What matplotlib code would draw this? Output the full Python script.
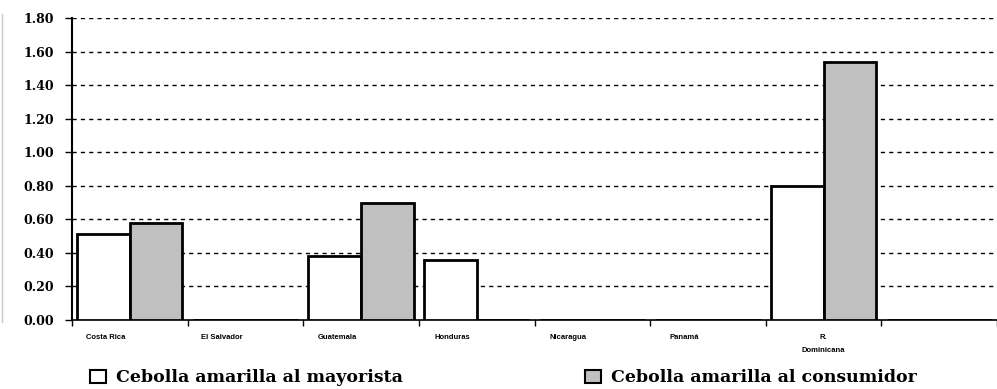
import numpy as np
import matplotlib.pyplot as plt
from matplotlib.patches import Patch
from matplotlib.lines import Line2D
import matplotlib.transforms as mtransforms

# data
paises = ['Costa Rica', 'El Salvador', 'Guatemala', 'Honduras',
          'Nicaragua', 'Panamá', 'R.\nDominicana', '']
mayorista = [0.51, 0, 0.38, 0.36, 0, 0, 0.80, 0]
consumidor = [0.58, 0, 0.70, 0, 0, 0, 1.54, 0]
series = ['Cebolla amarilla al mayorista', 'Cebolla amarilla al consumidor']
y_ticks = np.arange(0, 1.81, 0.2)

fig = plt.figure(figsize=(9.97, 3.89), dpi=100)
ax = fig.add_axes([72 / 997, 1 - 320 / 389, 925 / 997, 302 / 389])

x = np.arange(len(paises))
w = 0.455
ax.bar(x - w / 2, mayorista, w, color='white', edgecolor='black', linewidth=2, zorder=3)
ax.bar(x + w / 2, consumidor, w, color='#c0c0c0', edgecolor='black', linewidth=2, zorder=3)

ax.set_xlim(-0.5, 7.41)
ax.set_ylim(0, 1.8)
ax.set_yticks(y_ticks)
ax.set_yticklabels([f'{v:.2f}' for v in y_ticks], family='DejaVu Serif',
                   fontweight='bold', fontsize=9)
for v in y_ticks[1:]:
    ax.axhline(v, color='black', linewidth=1, linestyle=(0, (3, 3)), zorder=1)

# category ticks at the boundaries, labels near the centre
ax.set_xticks(np.arange(-0.5, 8, 1), minor=True)
ax.set_xticks(x)
ax.set_xticklabels(paises, fontsize=5.5, family='Liberation Sans', linespacing=2.2,
                   va='top', fontweight='bold')
ax.tick_params(axis='x', which='major', length=0, pad=10)
ax.tick_params(axis='x', which='minor', length=4, width=1, direction='out')
ax.tick_params(axis='y', length=5, width=1, direction='out', pad=8)
shift = mtransforms.ScaledTranslation(-24 / 100, 0, fig.dpi_scale_trans)
for i, lab in enumerate(ax.get_xticklabels()):
    if i < 6:
        lab.set_transform(lab.get_transform() + shift)

for s in ['top', 'right']:
    ax.spines[s].set_visible(False)
ax.spines['left'].set_linewidth(1.5)
ax.spines['bottom'].set_linewidth(1.2)

# faint frame line at the left edge
fig.add_artist(Line2D([2 / 997, 2 / 997], [1 - 322 / 389, 1 - 14 / 389],
                      transform=fig.transFigure, color='#c8c8c8', linewidth=1))

# two legend entries placed separately
colores = ['white', '#c0c0c0']
x_leg = [90 / 997, 585 / 997]
for nombre, col, xl in zip(series, colores, x_leg):
    fig.legend([Patch(facecolor=col, edgecolor='black', linewidth=1.5)], [nombre],
               loc='center left', bbox_to_anchor=(xl, 1 - 378 / 389), frameon=False,
               prop={'family': 'DejaVu Serif', 'weight': 'bold', 'size': 12.5},
               handlelength=0.9, handleheight=0.7, handletextpad=0.6,
               borderpad=0, borderaxespad=0)

fig.savefig('out.png', dpi=100)
